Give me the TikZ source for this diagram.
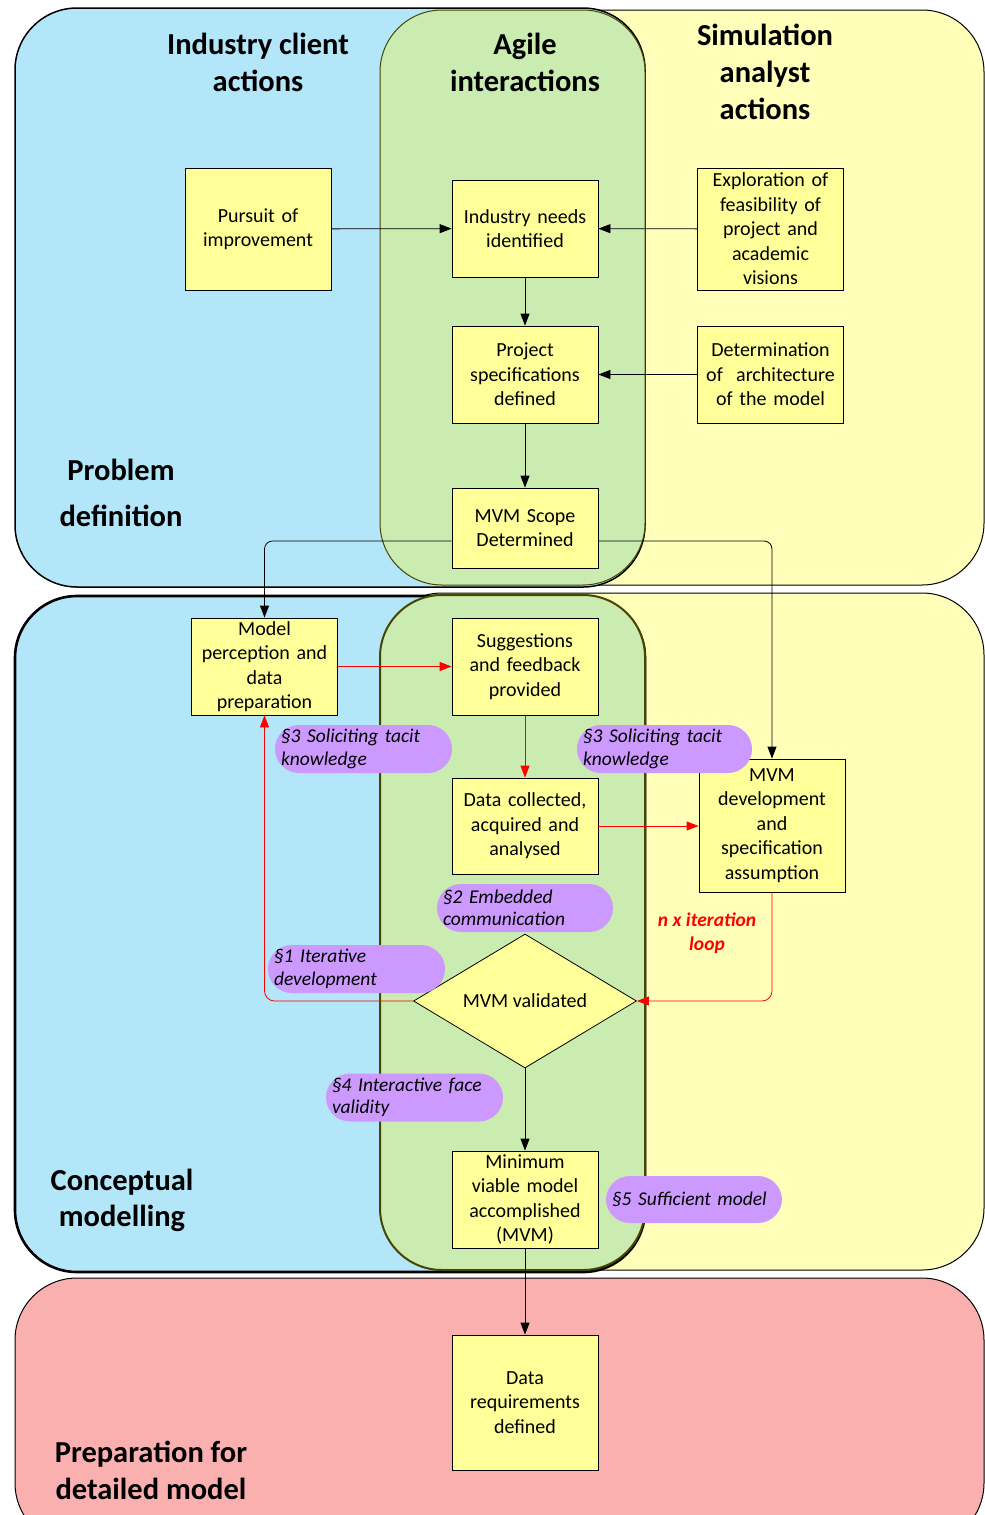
\documentclass[tikz,border=0pt]{standalone}
\usepackage{fontspec}
\setmainfont{Carlito}
\usetikzlibrary{arrows.meta,shapes.geometric}
\definecolor{clientblue}{RGB}{179,230,248}
\definecolor{agilegreen}{RGB}{203,236,177}
\definecolor{analystyellow}{RGB}{255,255,185}
\definecolor{boxyellow}{RGB}{255,255,153}
\definecolor{prepred}{RGB}{251,176,176}
\definecolor{tagpurple}{RGB}{204,153,255}
\definecolor{olive}{RGB}{70,70,0}
\begin{document}
\begin{tikzpicture}[x=1pt,y=-1pt,
  region/.style={rounded corners=62pt},
  box/.style={draw=black, line width=0.8pt, fill=boxyellow, minimum width=146pt,
    text width=140pt, inner xsep=3pt, inner ysep=1pt, align=center,
    font=\fontsize{20}{24.5}\selectfont},
  pill/.style={fill=tagpurple, rounded corners=24pt, minimum width=177pt,
    minimum height=48pt, text width=165pt, inner xsep=6pt, align=left,
    font=\fontsize{19.5}{22.5}\selectfont\itshape},
  heading/.style={align=center, font=\fontsize{30.5}{37}\selectfont\bfseries},
  arr/.style={-{Triangle[length=12pt,width=9pt]}, line width=0.8pt},
  redarr/.style={arr, red},
]
\useasboundingbox (0,0) rectangle (985,1515);

% ---- Problem definition band ----
\draw[region, fill=analystyellow, line width=1pt] (380,10) rectangle (984,585);
\draw[region, fill=clientblue, line width=1.5pt] (15,8) rectangle (645,587);
\draw[region, fill=agilegreen, draw=olive, line width=1pt] (380,10) rectangle (645,585);

% ---- Conceptual modelling band ----
\draw[region, fill=analystyellow, line width=1pt] (380,593) rectangle (984,1270);
\draw[region, fill=clientblue, line width=2.6pt] (15,596) rectangle (645,1272);
\draw[region, fill=agilegreen, draw=olive, line width=2pt] (380,595) rectangle (645,1270);

% ---- Preparation band ----
\draw[region, fill=prepred, line width=1pt] (15,1278) rectangle (984,1545);

% ---- Column and band headings ----
\node[heading] (hdclient) at (258,62) {Industry client\\actions};
\node[heading] (hdagile) at (525,62) {Agile\\interactions};
\node[heading] (hdanalyst) at (765,72) {Simulation\\analyst\\actions};
\node[heading, font=\fontsize{30.5}{46}\selectfont\bfseries] (hdproblem) at (121,493) {Problem\\definition};
\node[heading, font=\fontsize{30.5}{36}\selectfont\bfseries] (hdconcept) at (122,1200) {Conceptual\\modelling};
\node[heading] (hdprep) at (151,1470) {Preparation for\\detailed model};

% ---- Process steps ----
\node[box, minimum height=122pt] (pursuit) at (258,229) {Pursuit of\\improvement};
\node[box, minimum height=97pt] (need) at (525,228.5) {Industry needs\\identified};
\node[box, minimum height=122pt, minimum width=145pt] (explore) at (770.5,229) {Exploration of\\feasibility of\\project and\\academic\\visions};
\node[box, minimum height=97pt] (spec) at (525,374.5) {Project\\specifications\\defined};
\node[box, minimum height=97pt, minimum width=145pt] (arch) at (770.5,374.5) {Determination\\of\ \ architecture\\of the model};
\node[box, minimum height=80pt] (scope) at (525,528) {MVM Scope\\Determined};
\node[box, minimum height=97pt, minimum width=145pt] (percept) at (264.5,666.5) {Model\\perception and\\data\\preparation};
\node[box, minimum height=97pt] (suggest) at (525,666.5) {Suggestions\\and feedback\\provided};
\node[box, minimum height=96pt] (collect) at (525,826) {Data collected,\\acquired and\\analysed};
\node[box, minimum height=133pt] (dev) at (772,825.5) {MVM\\development\\and\\specification\\assumption};
\node[draw=black, line width=0.8pt, fill=boxyellow, diamond, aspect=1.66,
  minimum width=223pt, minimum height=134pt, inner sep=0pt,
  font=\fontsize{20}{24.5}\selectfont] (valid) at (525,1001) {MVM validated};
\node[box, minimum height=97pt] (mvm) at (525,1199.5) {Minimum\\viable model\\accomplished\\(MVM)};
\node[box, minimum height=135pt] (datareq) at (525,1402.5) {Data\\requirements\\defined};

% ---- Connectors ----
\draw[arr] (pursuit) -- (need);
\draw[arr] (explore) -- (need);
\draw[arr] (need) -- (spec);
\draw[arr] (arch) -- (spec);
\draw[arr] (spec) -- (scope);
\draw[arr, rounded corners=8pt] ([yshift=-13pt]scope.west) -| (percept.north);
\draw[arr, rounded corners=8pt] ([yshift=-13pt]scope.east) -| (dev.north);
\draw[redarr] (percept) -- (suggest);
\draw[redarr] (suggest) -- (collect);
\draw[redarr] (collect.east) -- (collect.east -| dev.west);
\draw[redarr, rounded corners=10pt] (dev.south) |- (valid.east);
\draw[redarr, rounded corners=10pt] (valid.west) -| (percept.south);
\draw[arr] (valid.south) -- (mvm.north);
\draw[arr] (mvm) -- (datareq);

% ---- Interaction notes ----
\node[pill] (tacitclient) at (363.5,749) {§3 Soliciting tacit\\knowledge};
\node[pill, minimum width=175pt, text width=163pt] (tacitanalyst) at (664.5,749) {§3 Soliciting tacit\\knowledge};
\node[pill, minimum width=176pt, text width=164pt] (embedded) at (525,908) {§2 Embedded\\communication};
\node[pill] (iterative) at (356.5,969) {§1 Iterative\\development};
\node[pill] (facevalid) at (414.5,1097.5) {§4 Interactive face\\validity};
\node[pill, minimum width=176pt, minimum height=47pt, text width=164pt] (sufficient) at (694,1199.5) {§5 Sufficient model};

\node[align=center, text=red, font=\fontsize{19.5}{24}\selectfont\bfseries\itshape] (loopnote) at (707,933) {n x iteration\\loop};
\end{tikzpicture}
\end{document}
